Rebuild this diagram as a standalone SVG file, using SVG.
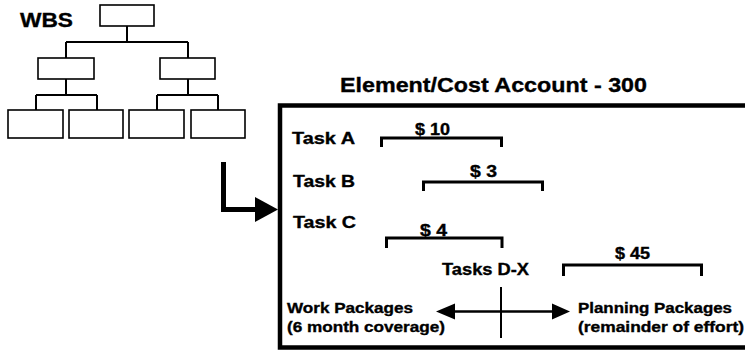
<svg xmlns="http://www.w3.org/2000/svg" width="745" height="351" viewBox="0 0 745 351">
<style>
text{font-family:"Liberation Sans",Arial,Helvetica,sans-serif;font-weight:bold;fill:#000;stroke:#000;stroke-width:0.35}
.t21{font-size:21px}
.t16{font-size:16.5px}
.t15{font-size:16px}
.t14{font-size:14.5px}
.box{fill:#fff;stroke:#000;stroke-width:1.6}
.tree{fill:none;stroke:#000;stroke-width:2}
.bar{fill:none;stroke:#000;stroke-width:3}
</style>
<rect width="745" height="351" fill="#fff"/>
<g id="wbs">
<text class="t21" x="20" y="27" textLength="53" lengthAdjust="spacingAndGlyphs">WBS</text>
<g id="wbs-top"><rect class="box" x="100" y="5" width="54" height="21"/></g>
<g id="wbs-mid-left"><rect class="box" x="38" y="58" width="56" height="21"/></g>
<g id="wbs-mid-right"><rect class="box" x="160" y="58" width="55" height="21"/></g>
<g id="wbs-leaf-1"><rect class="box" x="8" y="110" width="55" height="28"/></g>
<g id="wbs-leaf-2"><rect class="box" x="69" y="110" width="54" height="28"/></g>
<g id="wbs-leaf-3"><rect class="box" x="129" y="110" width="55" height="28"/></g>
<g id="wbs-leaf-4"><rect class="box" x="191" y="110" width="54" height="28"/></g>
</g>
<g id="connectors">
<path class="tree" d="M127 26V42M66 42H188M66 42V58M188 42V58M66 79V95M36 95H97M36 95V110M97 95V110M188 79V95M157 95H218M157 95V110M218 95V110"/>
<path d="M223.5 162V209.5H257" fill="none" stroke="#000" stroke-width="5"/>
<polygon points="255,197 278,209.5 255,222" fill="#000"/>
<path d="M455 311.5H552" fill="none" stroke="#000" stroke-width="2.5"/>
<polygon points="455,303.5 436,311.5 455,319.5" fill="#000"/>
<polygon points="552,303.5 570,311.5 552,319.5" fill="#000"/>
</g>
<g id="cost-account">
<text class="t21" x="340" y="92" textLength="307" lengthAdjust="spacingAndGlyphs">Element/Cost Account - 300</text>
<path d="M746 105.5H280V347.5H746" fill="none" stroke="#000" stroke-width="4.5"/>
<path d="M501 287V338" fill="none" stroke="#000" stroke-width="2"/>
</g>
<g id="task-a">
<text class="t16" x="292" y="144" textLength="63" lengthAdjust="spacingAndGlyphs">Task A</text>
<path class="bar" d="M381.5 147V138H501.5V147"/>
<text class="t15" x="415" y="135" textLength="35" lengthAdjust="spacingAndGlyphs">$ 10</text>
</g>
<g id="task-b">
<text class="t16" x="293" y="187" textLength="62" lengthAdjust="spacingAndGlyphs">Task B</text>
<path class="bar" d="M423.5 191V182H542.5V191"/>
<text class="t15" x="470" y="177" textLength="27" lengthAdjust="spacingAndGlyphs">$ 3</text>
</g>
<g id="task-c">
<text class="t16" x="293" y="228" textLength="63" lengthAdjust="spacingAndGlyphs">Task C</text>
<path class="bar" d="M386.5 248V238H502V248"/>
<text class="t15" x="420" y="236" textLength="27" lengthAdjust="spacingAndGlyphs">$ 4</text>
</g>
<g id="tasks-dx">
<text class="t16" x="442" y="275" textLength="87" lengthAdjust="spacingAndGlyphs">Tasks D-X</text>
<path class="bar" d="M563.5 276V265H701.5V276"/>
<text class="t15" x="615" y="259" textLength="35" lengthAdjust="spacingAndGlyphs">$ 45</text>
</g>
<g id="work-packages">
<text class="t14" x="287" y="313" textLength="126" lengthAdjust="spacingAndGlyphs">Work Packages</text>
<text class="t14" x="287" y="332" textLength="158" lengthAdjust="spacingAndGlyphs">(6 month coverage)</text>
</g>
<g id="planning-packages">
<text class="t14" x="578" y="313" textLength="154" lengthAdjust="spacingAndGlyphs">Planning Packages</text>
<text class="t14" x="578" y="332" textLength="166" lengthAdjust="spacingAndGlyphs">(remainder of effort)</text>
</g>
</svg>
